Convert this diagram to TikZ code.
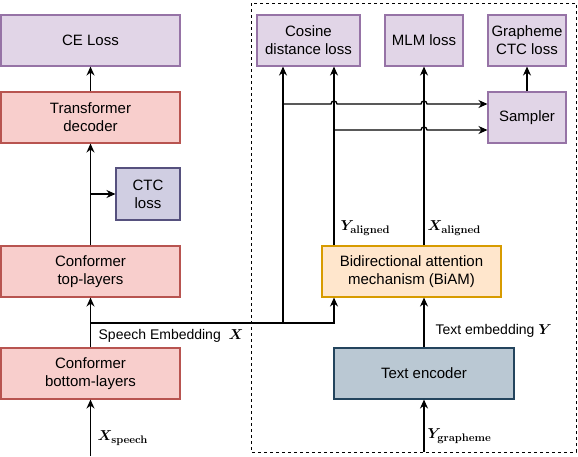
\documentclass[tikz,border=0pt]{standalone}
\usepackage[no-math]{fontspec}
\setmainfont{Liberation Sans}
\usepackage{bm}
\usetikzlibrary{arrows.meta}
\definecolor{lossfill}{HTML}{E1D5E7}
\definecolor{lossdraw}{HTML}{9673A6}
\definecolor{conffill}{HTML}{F8CECC}
\definecolor{confdraw}{HTML}{B85450}
\definecolor{ctcfill}{HTML}{D0CEE2}
\definecolor{ctcdraw}{HTML}{56517E}
\definecolor{biamfill}{HTML}{FFE6CC}
\definecolor{biamdraw}{HTML}{D79B00}
\definecolor{encfill}{HTML}{BAC8D3}
\definecolor{encdraw}{HTML}{23445D}

\begin{document}
\begin{tikzpicture}[x=1pt,y=-1pt,line width=1.3pt,
  >={Stealth[length=9pt,width=8pt]},
  box/.style={draw,line width=1.1pt,minimum height=51pt,align=center,inner sep=0pt,
    font=\fontsize{15}{18}\selectfont},
  loss/.style={box,draw=lossdraw,fill=lossfill},
  conf/.style={box,draw=confdraw,fill=conffill},
  lbl/.style={inner sep=1pt,font=\fontsize{14}{16}\selectfont},
  mlbl/.style={inner sep=1pt,font=\fontsize{15}{17}\selectfont}]
\useasboundingbox (0,0) rectangle (578,456);

\draw[line width=1pt,dash pattern=on 3pt off 3pt] (251,3) rectangle (576,452);

\node[loss,minimum width=179pt] (ce) at (90.5,40.5) {CE Loss};
\node[conf,minimum width=179pt] (dec) at (90.5,117.5) {Transformer\\decoder};
\node[box,draw=ctcdraw,fill=ctcfill,minimum width=64pt,minimum height=52pt] (ctc) at (148,194) {CTC\\loss};
\node[conf,minimum width=179pt] (top) at (90.5,271.5) {Conformer\\top-layers};
\node[conf,minimum width=179pt] (bot) at (90.5,373.5) {Conformer\\bottom-layers};

\node[loss,minimum width=103pt] (cos) at (308.5,40.5) {Cosine\\distance loss};
\node[loss,minimum width=78pt] (mlm) at (424,40.5) {MLM loss};
\node[loss,minimum width=78pt] (gctc) at (527,40.5) {Grapheme\\CTC loss};
\node[loss,minimum width=78pt] (samp) at (527,117.5) {Sampler};
\node[box,draw=biamdraw,fill=biamfill,minimum width=179pt] (biam) at (411.5,271.5) {Bidirectional attention\\mechanism (BiAM)};
\node[box,draw=encdraw,fill=encfill,minimum width=180pt] (enc) at (424,373.5) {Text encoder};

\coordinate (xin) at (90.5,456);
\coordinate (yin) at (424,452);
\coordinate (br) at (90.5,194);
\coordinate (emb) at (90.5,323);
\coordinate (cx) at (283,323);
\coordinate (cy) at (334,323);
\coordinate (j1) at (283,104);
\coordinate (j2) at (334,130);

\draw[->] (xin) -- (bot);
\draw[->] (bot) -- (top);
\draw[->] (top) -- (dec);
\draw[->] (dec) -- (ce);
\draw[->] (br) -- (ctc);
\draw[->] (emb) -- (cy) -- (cy |- biam.south);
\draw[->] (cx) -- (cx |- cos.south);
\draw[->] (cy |- biam.north) -- (cy |- cos.south);
\draw[->] (biam.north -| mlm) -- (mlm.south);
\draw[->] (enc) -- (biam.south -| enc);
\draw[->] (yin) -- (enc);
\draw[->] (samp) -- (gctc);
\draw[->] (j1) -- (331,104) arc[start angle=180,end angle=360,radius=3]
  -- (421,104) arc[start angle=180,end angle=360,radius=3] -- (samp.west |- j1);
\draw[->] (j2) -- (421,130) arc[start angle=180,end angle=360,radius=3] -- (samp.west |- j2);

\node[lbl,anchor=west] (embl) at (97,336) {Speech Embedding\ \ $\bm{X}$};
\node[lbl,anchor=west] (encl) at (434,331) {Text embedding\ $\bm{Y}$};
\node[mlbl,anchor=west] (yal) at (339,228) {$\bm{Y}_{\mathbf{aligned}}$};
\node[mlbl,anchor=west] (xal) at (426,228) {$\bm{X}_{\mathbf{aligned}}$};
\node[mlbl,anchor=west] (xsp) at (96,438) {$\bm{X}_{\mathbf{speech}}$};
\node[mlbl,anchor=west] (ygr) at (426,436) {$\bm{Y}_{\mathbf{grapheme}}$};
\end{tikzpicture}
\end{document}
